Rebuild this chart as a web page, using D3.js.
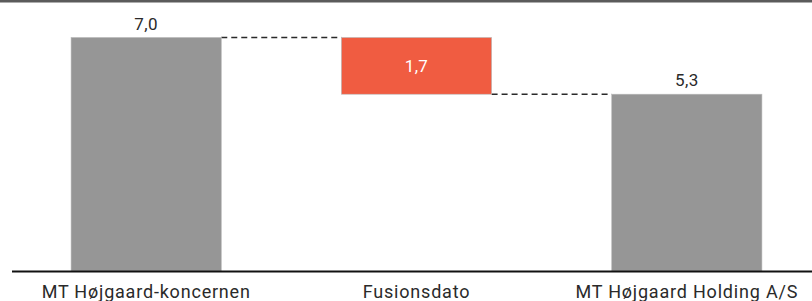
<!DOCTYPE html>
<html>
<head>
<meta charset="utf-8">
<script src="https://cdn.jsdelivr.net/npm/d3@7"></script>
<style>
  body { margin: 0; background: #fff; }
  svg { display: block; font-family: Roboto, "Liberation Sans", sans-serif; }
</style>
</head>
<body>
<div id="chart-area"></div>
<script>
const categories = ["MT Højgaard-koncernen", "Fusionsdato", "MT Højgaard Holding A/S"]
const values = [7.0, -1.7, 5.3]
const kinds = ["total", "delta", "total"]
const valueLabels = ["7,0", "1,7", "5,3"]

const width = 812
const height = 301

// waterfall start/end for each step
let running = 0
const steps = values.map((v, i) => {
	let s
	if (kinds[i] === "total") {
		s = { y0: 0, y1: v }
		running = v
	} else {
		s = { y0: running + v, y1: running }
		running = running + v
	}
	return { name: categories[i], kind: kinds[i], label: valueLabels[i], ...s }
})

const svg = d3.select("#chart-area").append("svg")
	.attr("width", width)
	.attr("height", height)

// top rule
svg.append("rect")
	.attr("x", 0).attr("y", 0)
	.attr("width", width).attr("height", 2.5)
	.attr("fill", "#5b5b5b")

const x = d3.scaleBand()
	.domain(categories)
	.range([40, 793])
	.paddingInner(120 / 270)
	.paddingOuter(0.115)

const y = d3.scaleLinear()
	.domain([0, 7])
	.range([271, 37.5])

// connectors
for (let i = 0; i < steps.length - 1; i++) {
	const level = steps[i].kind === "total" ? steps[i].y1 : steps[i].y0
	svg.append("line")
		.attr("x1", x(steps[i].name) + x.bandwidth())
		.attr("x2", x(steps[i + 1].name))
		.attr("y1", y(level))
		.attr("y2", y(level))
		.attr("stroke", "#2a2a2a")
		.attr("stroke-width", 1.6)
		.attr("stroke-dasharray", "6,4")
}

svg.selectAll("rect.bar")
	.data(steps)
	.enter().append("rect")
	.attr("class", "bar")
	.attr("x", d => x(d.name))
	.attr("y", d => y(d.y1))
	.attr("width", x.bandwidth())
	.attr("height", d => y(d.y0) - y(d.y1))
	.attr("fill", d => d.kind === "total" ? "#969696" : "#f05c41")
	.attr("stroke", "#b8b8b8")
	.attr("stroke-width", 0.6)

// value labels
svg.selectAll("text.val")
	.data(steps)
	.enter().append("text")
	.attr("class", "val")
	.attr("x", d => x(d.name) + x.bandwidth() / 2)
	.attr("y", d => d.kind === "total" ? y(d.y1) - 8 : (y(d.y0) + y(d.y1)) / 2 + 6)
	.attr("text-anchor", "middle")
	.attr("font-size", 17)
	.attr("letter-spacing", 0.4)
	.attr("fill", d => d.kind === "total" ? "#2a2a2a" : "#fff")
	.text(d => d.label)

// baseline axis
const xAxis = d3.axisBottom(x).tickSize(0).tickPadding(14)
const gx = svg.append("g")
	.attr("transform", `translate(0,${y(0)})`)
	.call(xAxis)
gx.select(".domain").remove()
gx.selectAll("text")
	.attr("font-size", 18)
	.attr("letter-spacing", 0.8)
	.attr("fill", "#2a2a2a")
	.attr("font-family", "Roboto, sans-serif")

svg.append("line")
	.attr("x1", 12).attr("x2", width)
	.attr("y1", y(0) + 0.5).attr("y2", y(0) + 0.5)
	.attr("stroke", "#111")
	.attr("stroke-width", 2)
</script>
</body>
</html>
